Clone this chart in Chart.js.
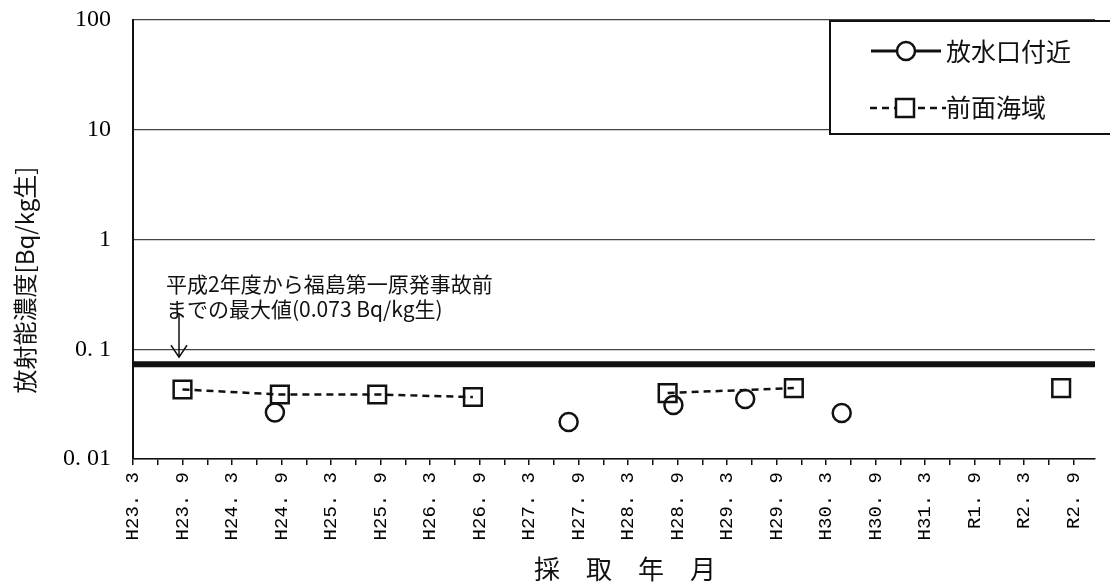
<!DOCTYPE html>
<html>
<head>
<meta charset="utf-8">
<script src="https://cdn.jsdelivr.net/npm/chart.js@4/dist/chart.umd.min.js"></script>
<style>
  html, body { margin: 0; padding: 0; background: #fff; }
  #c { display: block; }
</style>
</head>
<body>
<canvas id="c" width="1110" height="584"></canvas>
<script>
// ---- data (months counted from H23.3 = 0) ----
const xTickLabels = ['H23. 3','H23. 9','H24. 3','H24. 9','H25. 3','H25. 9','H26. 3','H26. 9','H27. 3','H27. 9',
                     'H28. 3','H28. 9','H29. 3','H29. 9','H30. 3','H30. 9','H31. 3','R1. 9','R2. 3','R2. 9'];
const xTickMonths = [0,3,6,9,12,15,18,21,24,27,30,33,36,39,42,45,48,51,54,57,60,63,66,69,72,75,78,81,84,87,
                     90,93,96,99,102,105,108,111,114];
const yTickValues = [0.01, 0.1, 1, 10, 100];
const yTickLabels = ['0. 01', '0. 1', '1', '10', '100'];

const outletLabel = '放水口付近';
const outletMonths = [17.2, 52.8, 65.5, 74.2, 85.9];
const outletValues = [0.0265, 0.0217, 0.0310, 0.0352, 0.0262];

const frontLabel = '前面海域';
const frontMonths = [6, 17.8, 29.6, 41.2, 64.8, 80.1, 112.5];
const frontValues = [0.0430, 0.0387, 0.0387, 0.0367, 0.0399, 0.0443, 0.0443];
const frontGroups = [0, 0, 0, 0, 1, 1, 2];

const thresholdValue = 0.073;
const xMin = 0, xMax = 116.6;

const yTitle = '放射能濃度[Bq/kg生]';
const xTitle = '採　取　年　月';
const annoLines = ['平成2年度から福島第一原発事故前', 'までの最大値(0.073 Bq/kg生)'];

const INK = '#111';
const CJK = '"Noto Sans CJK JP", "Noto Sans", sans-serif';

const textPlugin = {
  id: 'texts',
  afterDraw(chart) {
    const ctx = chart.ctx;
    const ys = chart.scales.y;
    ctx.save();
    ctx.fillStyle = INK;
    ctx.strokeStyle = INK;

    // y-axis title
    ctx.save();
    ctx.translate(25, 280);
    ctx.rotate(-Math.PI / 2);
    ctx.font = '24px ' + CJK;
    ctx.textAlign = 'center';
    ctx.textBaseline = 'middle';
    ctx.fillText(yTitle, 0, 0);
    ctx.restore();

    // x-axis title
    ctx.font = '26px ' + CJK;
    ctx.textAlign = 'center';
    ctx.textBaseline = 'middle';
    ctx.fillText(xTitle, 625, 569);

    // annotation
    ctx.font = '21px ' + CJK;
    ctx.textAlign = 'left';
    ctx.fillText(annoLines[0], 166, 284);
    ctx.fillText(annoLines[1], 166, 309);

    // arrow
    const tipY = ys.getPixelForValue(thresholdValue) - 7;
    ctx.lineWidth = 1.5;
    ctx.beginPath();
    ctx.moveTo(179, 314); ctx.lineTo(179, tipY);
    ctx.moveTo(171, tipY - 12); ctx.lineTo(179, tipY); ctx.lineTo(187, tipY - 12);
    ctx.stroke();

    // legend box
    ctx.fillStyle = '#fff';
    ctx.fillRect(830, 21, 300, 113);
    ctx.lineWidth = 2;
    ctx.strokeStyle = INK;
    ctx.strokeRect(830, 21, 300, 113);

    ctx.fillStyle = INK;
    // item 1: solid line + circle
    ctx.lineWidth = 3;
    ctx.beginPath(); ctx.moveTo(871, 51); ctx.lineTo(941, 51); ctx.stroke();
    ctx.lineWidth = 2.5;
    ctx.fillStyle = '#fff';
    ctx.beginPath(); ctx.arc(906, 51, 9, 0, Math.PI * 2); ctx.fill(); ctx.stroke();
    // item 2: dashed line + square
    ctx.lineWidth = 2.5;
    ctx.setLineDash([7, 5]);
    ctx.beginPath(); ctx.moveTo(870, 108); ctx.lineTo(946, 108); ctx.stroke();
    ctx.setLineDash([]);
    ctx.fillRect(896, 99, 18, 18);
    ctx.strokeRect(896, 99, 18, 18);

    ctx.fillStyle = INK;
    ctx.font = '25px ' + CJK;
    ctx.textAlign = 'left';
    ctx.textBaseline = 'middle';
    ctx.fillText(outletLabel, 946, 51);
    ctx.fillText(frontLabel, 946, 107);
    ctx.restore();
  }
};

new Chart(document.getElementById('c'), {
  type: 'line',
  data: {
    datasets: [
      {
        label: 'threshold',
        data: [{x: xMin, y: thresholdValue}, {x: xMax, y: thresholdValue}],
        borderColor: INK,
        borderWidth: 6,
        pointRadius: 0,
        order: 3
      },
      {
        label: frontLabel,
        data: frontMonths.map((m, i) => ({x: m, y: frontValues[i]})),
        borderColor: INK,
        borderWidth: 2.5,
        borderDash: [7, 5],
        pointStyle: 'rect',
        pointRadius: 12.5,
        pointBorderWidth: 2.5,
        pointBorderColor: INK,
        pointBackgroundColor: 'rgba(0,0,0,0)',
        segment: {
          borderColor: c => frontGroups[c.p0DataIndex] === frontGroups[c.p1DataIndex] ? INK : 'rgba(0,0,0,0)'
        },
        order: 2
      },
      {
        label: outletLabel,
        data: outletMonths.map((m, i) => ({x: m, y: outletValues[i]})),
        showLine: false,
        borderColor: INK,
        pointStyle: 'circle',
        pointRadius: 9,
        pointBorderWidth: 2.5,
        pointBorderColor: INK,
        pointBackgroundColor: 'rgba(0,0,0,0)',
        order: 1
      }
    ]
  },
  options: {
    responsive: false,
    animation: false,
    devicePixelRatio: 1,
    layout: { padding: { top: 20, right: 0, bottom: 0, left: 0 } },
    plugins: { legend: { display: false }, tooltip: { enabled: false } },
    scales: {
      x: {
        type: 'linear',
        min: xMin,
        max: xMax,
        afterBuildTicks: s => { s.ticks = xTickMonths.map(v => ({value: v})); },
        afterFit: s => { s.height = 125; s.paddingLeft = 0; s.paddingRight = 0; },
        ticks: {
          autoSkip: false,
          minRotation: 90,
          maxRotation: 90,
          padding: 7,
          color: '#000',
          font: { family: '"Liberation Mono", monospace', size: 19 },
          callback: v => (v % 6 === 0 ? xTickLabels[v / 6] : '')
        },
        grid: { drawOnChartArea: false, drawTicks: true, tickLength: 6, color: INK, lineWidth: 1.5 },
        border: { color: INK, width: 1.5 }
      },
      y: {
        type: 'logarithmic',
        min: 0.01,
        max: 100,
        afterBuildTicks: s => { s.ticks = yTickValues.map(v => ({value: v})); },
        afterFit: s => { s.width = 133; s.paddingTop = 0; s.paddingBottom = 0; },
        ticks: {
          padding: 22,
          color: '#000',
          font: { family: '"Liberation Serif", serif', size: 24 },
          callback: (v, i) => yTickLabels[i]
        },
        grid: { color: '#444', lineWidth: 1.2, drawTicks: false },
        border: { color: INK, width: 2 }
      }
    }
  },
  plugins: [textPlugin]
});
</script>
</body>
</html>
